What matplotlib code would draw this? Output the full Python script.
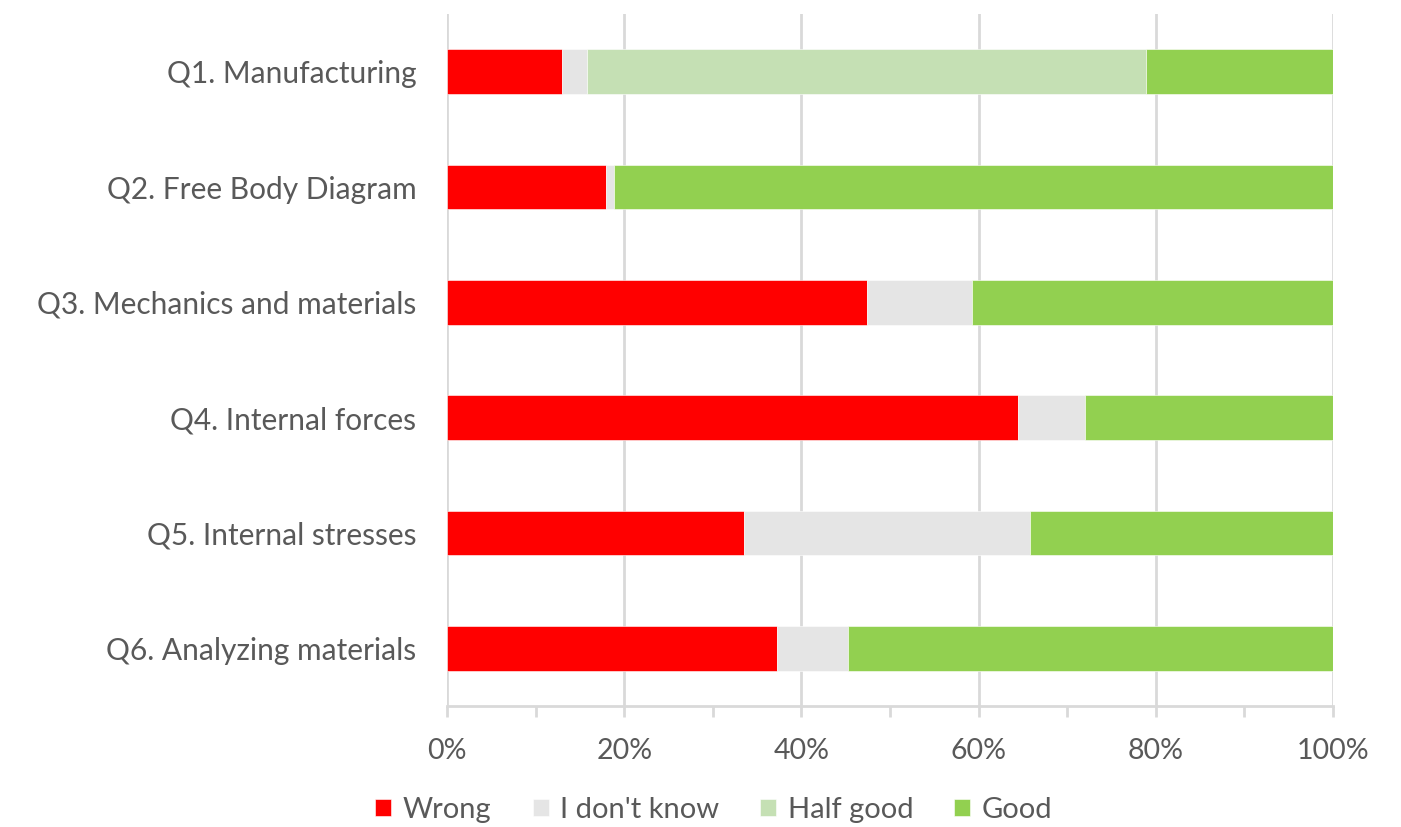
import numpy as np
import matplotlib.pyplot as plt
from matplotlib.ticker import MultipleLocator, FuncFormatter

# Share of answers per question (percent)
questions = ['Q1. Manufacturing', 'Q2. Free Body Diagram', 'Q3. Mechanics and materials',
             'Q4. Internal forces', 'Q5. Internal stresses', 'Q6. Analyzing materials']
wrong = [13.0, 18.0, 47.4, 64.5, 33.5, 37.3]
dont_know = [2.8, 0.9, 11.9, 7.5, 32.3, 8.0]
half_good = [63.1, 0.0, 0.0, 0.0, 0.0, 0.0]
good = [21.1, 81.1, 40.7, 28.0, 34.2, 54.7]

series = [('Wrong', wrong, '#FF0000'),
          ("I don't know", dont_know, '#E5E5E5'),
          ('Half good', half_good, '#C5E0B4'),
          ('Good', good, '#92D050')]

plt.rcParams['font.family'] = ['Lato', 'DejaVu Sans']
text_color = '#595959'

fig = plt.figure(figsize=(14.01, 8.27), dpi=100)
ax = fig.add_axes([447 / 1401, 1 - 706 / 827, 886 / 1401, 692 / 827])

y = np.arange(len(questions))
left = np.zeros(len(questions))
for name, vals, color in series:
    vals = np.array(vals)
    ax.barh(y, vals, left=left, height=0.39, color=color, label=name,
            edgecolor='white', linewidth=0.4, zorder=3)
    left += vals

ax.set_xlim(0, 100)
ax.set_ylim(len(questions) - 0.5, -0.5)
ax.set_yticks(y)
ax.set_yticklabels(questions)

ax.xaxis.set_major_locator(MultipleLocator(20))
ax.xaxis.set_minor_locator(MultipleLocator(10))
ax.xaxis.set_major_formatter(FuncFormatter(lambda v, p: f'{v:.0f}%'))
ax.grid(axis='x', which='major', color='#D9D9D9', linewidth=2, zorder=0)

for side in ['top', 'right', 'left']:
    ax.spines[side].set_visible(False)
ax.spines['bottom'].set_color('#D9D9D9')
ax.spines['bottom'].set_linewidth(2)

ax.tick_params(axis='y', length=0, pad=22, labelsize=21.5, labelcolor=text_color)
ax.tick_params(axis='x', which='both', length=8, width=2, color='#D9D9D9',
               pad=15, labelsize=20.5, labelcolor=text_color)

leg = fig.legend(loc='center', bbox_to_anchor=(714 / 1401, 1 - 810 / 827), ncol=4,
                 frameon=False, fontsize=21, handlelength=0.55, handleheight=0.55,
                 handletextpad=0.4, columnspacing=1.4)
for t in leg.get_texts():
    t.set_color(text_color)

fig.savefig('out.png', dpi=100)
